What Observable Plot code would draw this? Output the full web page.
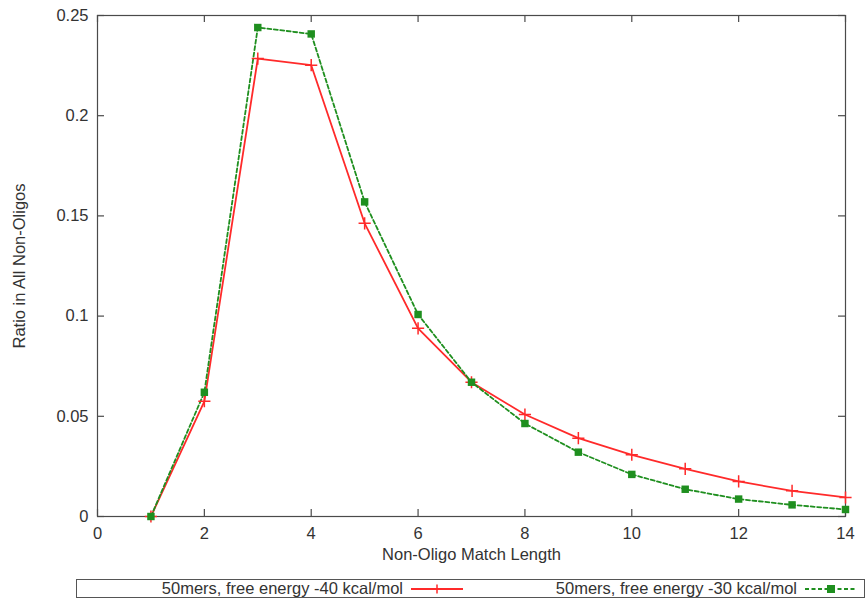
<!DOCTYPE html>
<html>
<head>
<meta charset="utf-8">
<script src="https://cdn.jsdelivr.net/npm/d3@7"></script>
<script src="https://cdn.jsdelivr.net/npm/@observablehq/plot@0.6"></script>
<style>
  body { margin: 0; background: #fff; font-family: "Liberation Sans", Arial, sans-serif; }
  #legend { position: relative; margin-left: 76px; width: 789px; height: 19px; border: 1px solid #555; box-sizing: border-box; margin-top: 9px; font-size: 16.5px; color: #333; }
  #legend .item { position: absolute; top: 0; height: 17px; line-height: 17px; white-space: nowrap; display: flex; align-items: center; }
</style>
</head>
<body>
<div id="chart"></div>
<div id="legend"></div>
<script>
const matchLength = [1, 2, 3, 4, 5, 6, 7, 8, 9, 10, 11, 12, 13, 14];
const ratio40 = [0, 0.0575, 0.2285, 0.2252, 0.1463, 0.0939, 0.067, 0.0509, 0.0391, 0.0308, 0.0238, 0.0175, 0.0128, 0.0095];
const ratio30 = [0, 0.062, 0.244, 0.2408, 0.157, 0.1008, 0.067, 0.0464, 0.0321, 0.021, 0.0136, 0.0087, 0.0058, 0.0035];
const seriesNames = ["50mers, free energy -40 kcal/mol", "50mers, free energy -30 kcal/mol"];
const xTicks = [0, 2, 4, 6, 8, 10, 12, 14];
const yTicks = [0, 0.05, 0.1, 0.15, 0.2, 0.25];
const yTickLabels = ["0", "0.05", "0.1", "0.15", "0.2", "0.25"];
const xLabel = "Non-Oligo Match Length";
const yLabel = "Ratio in All Non-Oligos";

const red = "#ff2a2a";
const green = "#1f8f1f";
const axisColor = "#4a4a4a";

const W = 866, H = 570, mT = 15, mL = 97, mR = 21, mB = 54;
const innerW = W - mL - mR, innerH = H - mT - mB, tick = 7;

const d40 = matchLength.map((x, i) => ({x, y: ratio40[i]}));
const d30 = matchLength.map((x, i) => ({x, y: ratio30[i]}));

const chart = Plot.plot({
  width: W,
  height: H,
  marginTop: mT,
  marginLeft: mL,
  marginRight: mR,
  marginBottom: mB,
  style: {fontFamily: "'Liberation Sans', Arial, sans-serif", fontSize: "16.5px", color: "#333", background: "transparent"},
  x: {domain: [0, 14]},
  y: {domain: [0, 0.25]},
  marks: [
    // inward ticks on all four sides
    Plot.tickX(xTicks, {x: d => d, stroke: axisColor, strokeWidth: 1.2, insetTop: innerH - tick}),
    Plot.tickX(xTicks, {x: d => d, stroke: axisColor, strokeWidth: 1.2, insetBottom: innerH - tick}),
    Plot.tickY(yTicks, {y: d => d, stroke: axisColor, strokeWidth: 1.2, insetRight: innerW - tick}),
    Plot.tickY(yTicks, {y: d => d, stroke: axisColor, strokeWidth: 1.2, insetLeft: innerW - tick}),
    Plot.frame({stroke: axisColor, strokeWidth: 1.2}),
    Plot.axisX({anchor: "bottom", ticks: xTicks, tickSize: 0, tickPadding: 11,
      label: xLabel, labelAnchor: "center", labelArrow: "none", labelOffset: 43, fontSize: 16.5}),
    Plot.axisY({anchor: "left", ticks: yTicks, tickSize: 0, tickPadding: 9,
      tickFormat: (d) => yTickLabels[yTicks.indexOf(d)] ?? String(d),
      label: yLabel, labelAnchor: "center", labelArrow: "none", labelOffset: 84, fontSize: 16.5}),
    Plot.line(d40, {x: "x", y: "y", stroke: red, strokeWidth: 1.8}),
    Plot.line(d30, {x: "x", y: "y", stroke: green, strokeWidth: 1.8, strokeDasharray: "4,2.5"}),
    Plot.dot(d40, {x: "x", y: "y", symbol: "plus", stroke: red, strokeWidth: 1.5, r: 4}),
    Plot.dot(d30, {x: "x", y: "y", symbol: "square", fill: green, stroke: "none", r: 4.2})
  ]
});
document.getElementById("chart").appendChild(chart);

// Legend
const legend = document.getElementById("legend");
function sample(color, dashed, square) {
  const ns = "http://www.w3.org/2000/svg";
  const svg = document.createElementNS(ns, "svg");
  svg.setAttribute("width", 52); svg.setAttribute("height", 14);
  const line = document.createElementNS(ns, "line");
  line.setAttribute("x1", 0); line.setAttribute("x2", 52);
  line.setAttribute("y1", 7); line.setAttribute("y2", 7);
  line.setAttribute("stroke", color); line.setAttribute("stroke-width", 1.8);
  if (dashed) line.setAttribute("stroke-dasharray", "4,2.5");
  svg.appendChild(line);
  if (square) {
    const r = document.createElementNS(ns, "rect");
    r.setAttribute("x", 22); r.setAttribute("y", 3); r.setAttribute("width", 8); r.setAttribute("height", 8);
    r.setAttribute("fill", color); svg.appendChild(r);
  } else {
    const p = document.createElementNS(ns, "path");
    p.setAttribute("d", "M26,2.5V11.5M21.5,7H30.5");
    p.setAttribute("stroke", color); p.setAttribute("stroke-width", 1.5);
    svg.appendChild(p);
  }
  return svg;
}
const items = [
  {name: seriesNames[0], color: red, dashed: false, square: false, right: 401},
  {name: seriesNames[1], color: green, dashed: true, square: true, right: 7}
];
items.forEach(it => {
  const div = document.createElement("div");
  div.className = "item";
  div.style.right = it.right + "px";
  const span = document.createElement("span");
  span.textContent = it.name;
  div.appendChild(span);
  const s = sample(it.color, it.dashed, it.square);
  s.style.marginLeft = "8px";
  div.appendChild(s);
  legend.appendChild(div);
});
</script>
</body>
</html>
